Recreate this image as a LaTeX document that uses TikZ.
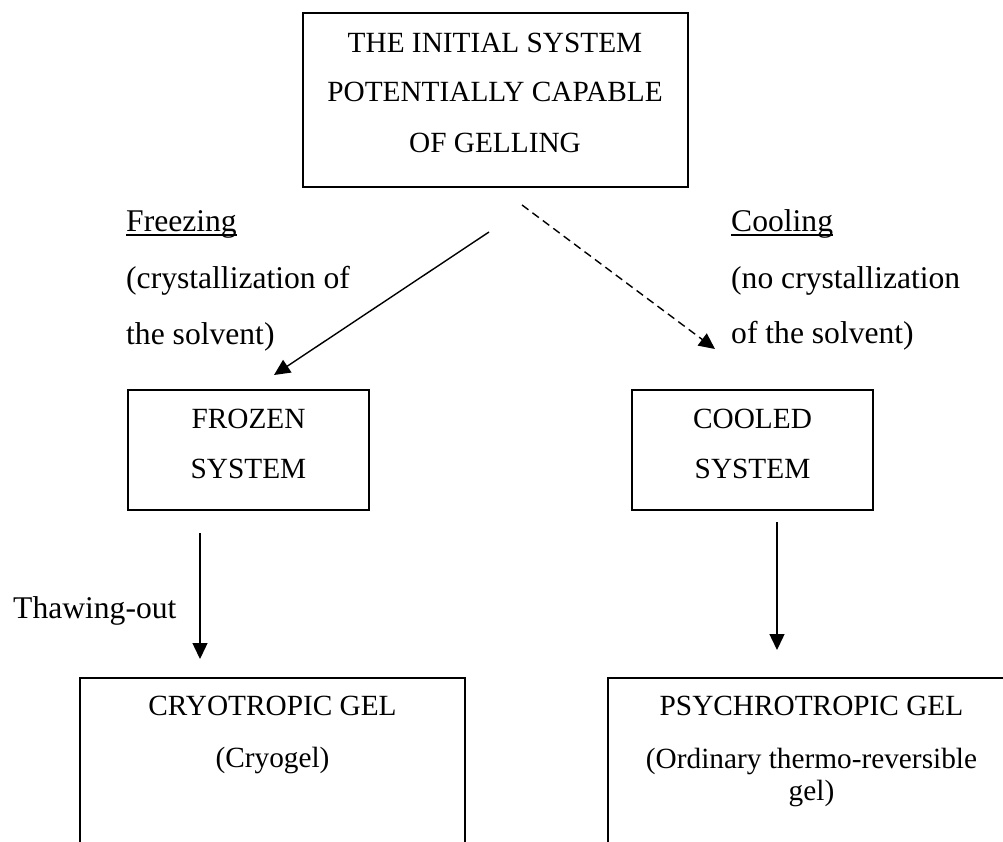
\documentclass[tikz,border=0pt]{standalone}
\usepackage{fontspec}
\setmainfont{Liberation Serif}
\usetikzlibrary{arrows.meta}
\begin{document}
\begin{tikzpicture}[x=1pt,y=-1pt,
  box/.style={draw, line width=1.5pt, inner sep=0pt},
  txt/.style={inner sep=0pt, anchor=base, font=\fontsize{29.3}{35}\selectfont},
  ltxt/.style={inner sep=0pt, anchor=base west, font=\fontsize{31.6}{38}\selectfont},
  uline/.style={line width=1.4pt},
  arr/.style={line width=1.4pt, -{Triangle[length=16pt,width=15pt]}},
  darr/.style={arr, dash pattern=on 8pt off 5pt}]
\clip (0,0) rectangle (1003,841);
\fill[white] (0,0) rectangle (1003,841);
% boxes
\node[box, minimum width=385pt, minimum height=174pt] (init) at (495.5,100) {};
\node[box, minimum width=241pt, minimum height=120pt] (frozen) at (248.5,450) {};
\node[box, minimum width=241pt, minimum height=120pt] (cooled) at (752.5,450) {};
\node[box, minimum width=385pt, minimum height=300pt] (cryo) at (272.5,828) {};
\node[box, minimum width=407pt, minimum height=300pt] (psych) at (811.5,828) {};
% box texts
\node[txt] (i1) at (495,52) {THE INITIAL SYSTEM};
\node[txt] (i2) at (495,101.5) {POTENTIALLY CAPABLE};
\node[txt] (i3) at (495,152) {OF GELLING};
\node[txt] (f1) at (248.5,428) {FROZEN};
\node[txt] (f2) at (248.5,478) {SYSTEM};
\node[txt] (c1) at (752.5,428) {COOLED};
\node[txt] (c2) at (752.5,478) {SYSTEM};
\node[txt] (g1) at (272.5,715) {CRYOTROPIC GEL};
\node[txt] (g2) at (272.5,767) {(Cryogel)};
\node[txt] (p1) at (811.5,715) {PSYCHROTROPIC GEL};
\node[txt] (p2) at (811.5,768) {(Ordinary thermo-reversible};
\node[txt] (p3) at (811.5,800) {gel)};
% side labels
\node[ltxt] (fz) at (126,231.5) {Freezing};
\draw[uline] ([yshift=-3.5pt]fz.base west) -- ([yshift=-3.5pt]fz.base east);
\node[ltxt] (fz2) at (126,288) {(crystallization of};
\node[ltxt] (fz3) at (126,344) {the solvent)};
\node[ltxt] (cl) at (731,231.5) {Cooling};
\draw[uline] ([yshift=-3.5pt]cl.base west) -- ([yshift=-3.5pt]cl.base east);
\node[ltxt] (cl2) at (731,288) {(no crystallization};
\node[ltxt] (cl3) at (731,343.5) {of the solvent)};
\node[ltxt] (th) at (13,618) {Thawing-out};
% connector end points
\coordinate (a1s) at (489,232);
\coordinate (a1e) at (274,375);
\coordinate (a2s) at (522,205);
\coordinate (a2e) at (715,349);
\coordinate (a3s) at (200,533);
\coordinate (a3e) at (200,659);
\coordinate (a4s) at (777,522);
\coordinate (a4e) at (777,650);
\draw[arr] (a1s) -- (a1e);
\draw[darr] (a2s) -- (a2e);
\draw[arr] (a3s) -- (a3e);
\draw[arr] (a4s) -- (a4e);
\end{tikzpicture}
\end{document}
